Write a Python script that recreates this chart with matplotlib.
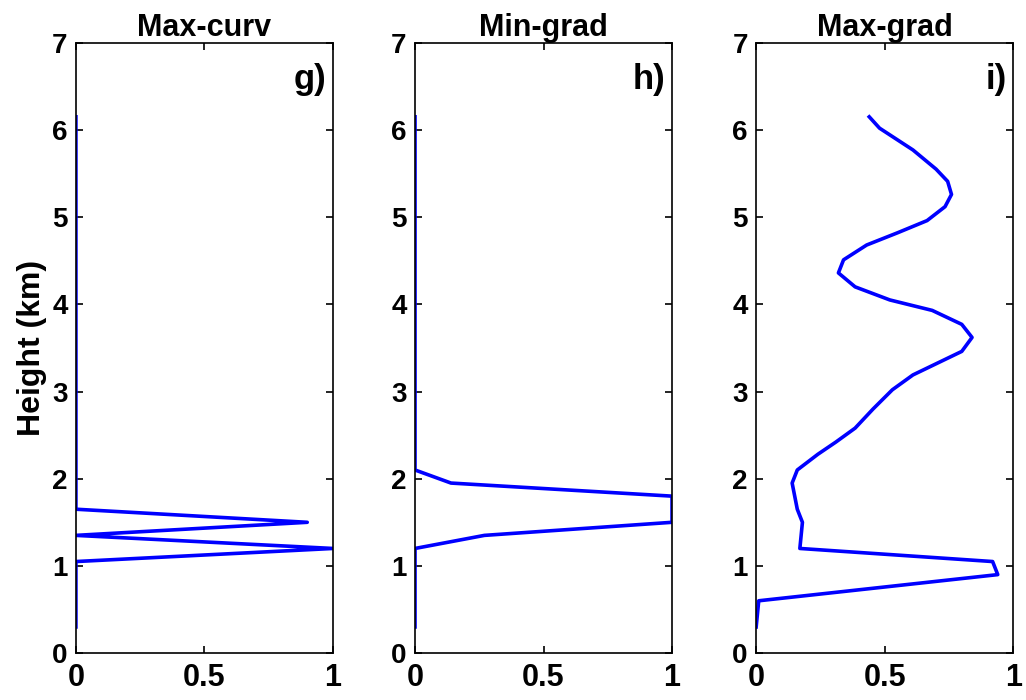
import matplotlib.pyplot as plt

plt.rcParams['font.family'] = ['Liberation Sans', 'DejaVu Sans']
plt.rcParams['font.weight'] = 'bold'

# Max-curv (panel g)
g_height = [0.3, 1.05, 1.2, 1.35, 1.5, 1.65, 6.15]
g_value = [0.0, 0.0, 1.0, 0.0, 0.9, 0.0, 0.0]

# Min-grad (panel h)
h_height = [0.3, 1.2, 1.35, 1.5, 1.8, 1.95, 2.1, 6.15]
h_value = [0.0, 0.0, 0.27, 1.0, 1.0, 0.14, 0.0, 0.0]

# Max-grad (panel i)
i_height = [0.3, 0.6, 0.9, 1.05, 1.2, 1.5, 1.65, 1.95, 2.1, 2.28, 2.42,
            2.58, 2.8, 3.02, 3.19, 3.46, 3.62, 3.77, 3.93, 4.05, 4.2, 4.36,
            4.51, 4.68, 4.82, 4.96, 5.12, 5.26, 5.41, 5.55, 5.77, 6.02, 6.15]
i_value = [0.0, 0.01, 0.94, 0.92, 0.17, 0.18, 0.16, 0.14, 0.16, 0.24, 0.31,
           0.385, 0.455, 0.53, 0.61, 0.80, 0.84, 0.80, 0.685, 0.52, 0.385, 0.32,
           0.34, 0.43, 0.55, 0.665, 0.735, 0.76, 0.745, 0.70, 0.61, 0.48, 0.44]

titles = ['Max-curv', 'Min-grad', 'Max-grad']
letters = ['g)', 'h)', 'i)']
profiles = [(g_value, g_height), (h_value, h_height), (i_value, i_height)]
lefts = [0.074, 0.4045, 0.737]

fig = plt.figure(figsize=(10.26, 7.0), dpi=100)
for k in range(3):
    ax = fig.add_axes([lefts[k], 0.067, 0.2505, 0.872])
    x, y = profiles[k]
    ax.plot(x, y, color=(0, 0, 1), lw=2.6)
    ax.set_xlim(0, 1)
    ax.set_ylim(0, 7)
    ax.set_xticks([0, 0.5, 1])
    ax.set_xticklabels(['0', '0.5', '1'])
    ax.set_yticks(range(8))
    ax.tick_params(direction='in', top=True, right=True,
                   length=5, width=1.2)
    ax.tick_params(axis='x', labelsize=22, pad=7)
    ax.tick_params(axis='y', labelsize=20, pad=6)
    for sp in ax.spines.values():
        sp.set_linewidth(1.2)
    ax.set_title(titles[k], fontsize=22, fontweight='bold', pad=5)
    ax.text(0.975, 0.94, letters[k], transform=ax.transAxes, ha='right',
            va='center', fontsize=25, fontweight='bold')
    if k == 0:
        ax.set_ylabel('Height (km)', fontsize=23, fontweight='bold', labelpad=4)

fig.savefig('out.png', dpi=100)
